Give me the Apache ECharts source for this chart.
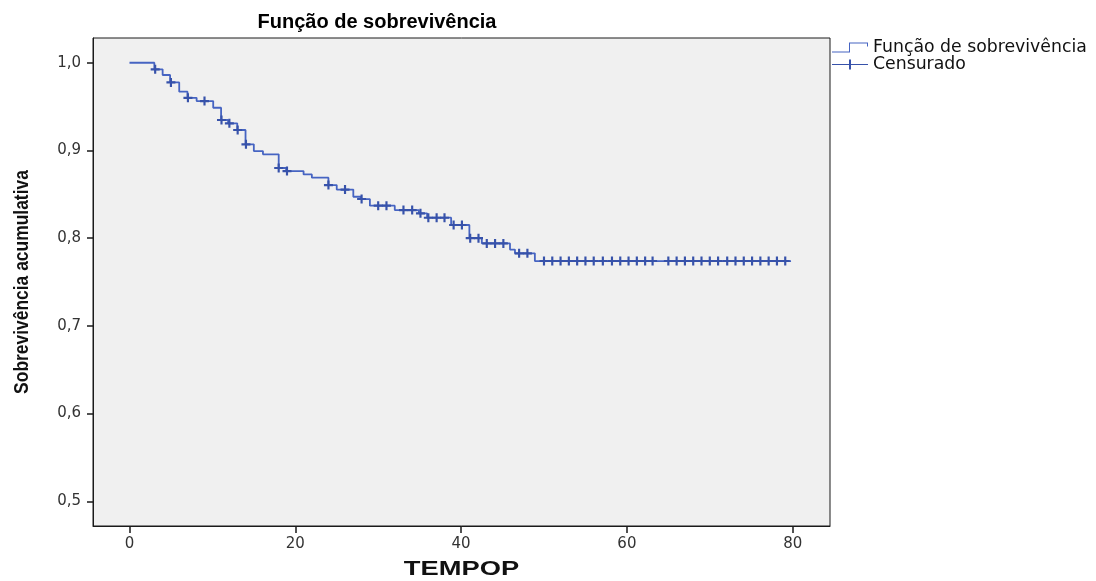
<!DOCTYPE html>
<html>
<head>
<meta charset="utf-8">
<script src="https://cdn.jsdelivr.net/npm/echarts@6/dist/echarts.min.js"></script>
<style>
  html, body { margin: 0; padding: 0; background: #ffffff; overflow: hidden; }
  #chart { width: 1096px; height: 581px; }
</style>
</head>
<body>
<div id="chart"></div>
<script>
// Kaplan–Meier estimate: time of each drop and the survival level after it
const eventTimes = [0, 3.0, 4.0, 4.9, 6.0, 7.0, 8.1, 10.1, 11.05, 11.9, 13.0, 14.0, 15.0, 16.1,
  18.0, 18.9, 21.0, 22.0, 24.0, 25.0, 27.0, 27.9, 29.0, 32.0, 34.9, 35.9, 38.8, 41.0, 42.5,
  45.9, 46.5, 48.9, 79.8];
const survival = [1.0, 0.9925, 0.986, 0.9776, 0.967, 0.960, 0.9563, 0.9487, 0.9347, 0.9309,
  0.9233, 0.907, 0.8993, 0.8956, 0.880, 0.8765, 0.8727, 0.8689, 0.8605, 0.8554, 0.8472,
  0.8446, 0.837, 0.832, 0.8283, 0.8233, 0.815, 0.800, 0.794, 0.787, 0.7827, 0.7739, 0.7739];

// Censored follow-up times, marked with "+" on the curve
const censorTimes = [3.1, 5.0, 7.05, 9.05, 11.1, 12.05, 13.05, 14.05, 18.0, 19.0, 24.0, 26.0,
  28.0, 30.0, 31.0, 33.05, 34.1, 35.1, 36.05, 37.05, 38.0, 39.1, 40.1, 41.1, 42.1, 43.1, 44.1,
  45.1, 47.0, 48.0, 50, 51, 52, 53, 54, 55, 56, 57.1, 58.2, 59.2, 60.2, 61.2, 62.2, 63.1,
  65, 66, 67, 68, 69, 70, 71, 72.1, 73.1, 74.1, 75.1, 76.1, 77.1, 78.1, 79.1];

const xTicks = [0, 20, 40, 60, 80];
const yTicks = [0.5, 0.6, 0.7, 0.8, 0.9, 1.0];

const curveName = 'Função de sobrevivência';
const censorName = 'Censurado';
const xTitle = 'TEMPOP';
const yTitle = 'Sobrevivência acumulativa';

// survival level in force at time t (right-continuous step function)
function survivalAt(t) {
  let s = survival[0];
  for (let i = 0; i < eventTimes.length; i++) {
    if (eventTimes[i] <= t) s = survival[i];
  }
  return s;
}

const curveData = eventTimes.map((t, i) => [t, survival[i]]);
const censorData = censorTimes.map(t => [t, survivalAt(t)]);

const plusPath = 'path://M3.8,0 L6.2,0 L6.2,10 L3.8,10 Z M0,3.8 L10,3.8 L10,6.2 L0,6.2 Z';
const stepIcon = 'path://M0,9 L17,9 L17,0 L36,0 L36,4 L35,4 L35,1 L18,1 L18,10 L0,10 Z';
const censorIcon = 'path://M0,4.5 L36,4.5 L36,5.5 L0,5.5 Z M17,0 L19,0 L19,10 L17,10 Z';

const lineColor = '#4664c2';
const plusColor = '#3752aa';
const tickFont = 'DejaVu Sans';

// plot frame in pixels
const plotLeft = 93, plotTop = 38, plotWidth = 737, plotHeight = 488;

const chart = echarts.init(document.getElementById('chart'), null, { renderer: 'canvas' });

chart.setOption({
  animation: false,
  backgroundColor: '#ffffff',
  title: {
    text: 'Função de sobrevivência',
    left: 377,
    top: 12,
    padding: 0,
    textAlign: 'center',
    textStyle: {
      fontFamily: 'Liberation Sans',
      fontWeight: 'bold',
      fontSize: 20,
      color: '#000000'
    }
  },
  legend: {
    orient: 'vertical',
    left: 832,
    top: 39,
    padding: 0,
    itemWidth: 36,
    itemHeight: 10,
    itemGap: 0,
    selectedMode: false,
    itemStyle: { borderWidth: 0 },
    textStyle: { fontFamily: tickFont, fontSize: 17.3, color: '#111111' },
    data: [
      { name: curveName, icon: stepIcon },
      { name: censorName, icon: censorIcon }
    ]
  },
  grid: {
    left: plotLeft,
    top: plotTop,
    width: plotWidth,
    height: plotHeight,
    show: true,
    backgroundColor: '#f0f0f0',
    borderColor: '#1a1a1a',
    borderWidth: 1,
    containLabel: false
  },
  // axis titles: wide bold caption under the x axis, condensed bold caption along the y axis
  graphic: [
    {
      type: 'text',
      x: plotLeft + plotWidth / 2,
      y: 570,
      scaleX: 1.4,
      style: {
        text: xTitle,
        fontFamily: 'Liberation Sans',
        fontWeight: 'bold',
        fontSize: 19.5,
        fill: '#111111',
        align: 'center',
        verticalAlign: 'middle'
      }
    },
    {
      type: 'text',
      x: 22,
      y: plotTop + plotHeight / 2,
      rotation: Math.PI / 2,
      scaleX: 0.83,
      style: {
        text: yTitle,
        fontFamily: 'Liberation Sans',
        fontWeight: 'bold',
        fontSize: 21,
        fill: '#111111',
        align: 'center',
        verticalAlign: 'middle'
      }
    }
  ],
  xAxis: {
    type: 'value',
    min: -4.4,
    max: 84.5,
    axisLine: { show: true, onZero: false, lineStyle: { color: '#1a1a1a', width: 1 } },
    axisTick: {
      show: true,
      length: 7,
      customValues: xTicks,
      lineStyle: { color: '#1a1a1a', width: 1.5 }
    },
    axisLabel: {
      customValues: xTicks,
      margin: 11,
      fontFamily: tickFont,
      fontSize: 15,
      color: '#333333',
      formatter: v => String(v)
    },
    splitLine: { show: false }
  },
  yAxis: {
    type: 'value',
    min: 0.4718,
    max: 1.0282,
    axisLine: { show: true, onZero: false, lineStyle: { color: '#1a1a1a', width: 1 } },
    axisTick: {
      show: true,
      length: 6,
      customValues: yTicks,
      lineStyle: { color: '#1a1a1a', width: 1.5 }
    },
    axisLabel: {
      customValues: yTicks,
      margin: 12,
      fontFamily: tickFont,
      fontSize: 15,
      color: '#333333',
      formatter: v => v.toFixed(1).replace('.', ',')
    },
    splitLine: { show: false }
  },
  series: [
    {
      name: curveName,
      type: 'line',
      step: 'end',
      data: curveData,
      showSymbol: false,
      symbol: 'none',
      color: lineColor,
      lineStyle: { color: lineColor, width: 1.8 },
      itemStyle: { color: lineColor, borderWidth: 0 },
      silent: true,
      z: 2
    },
    {
      name: censorName,
      type: 'scatter',
      data: censorData,
      symbol: plusPath,
      symbolSize: 9,
      color: plusColor,
      itemStyle: { color: plusColor, opacity: 1, borderWidth: 0 },
      silent: true,
      z: 3
    }
  ]
});
</script>
</body>
</html>
